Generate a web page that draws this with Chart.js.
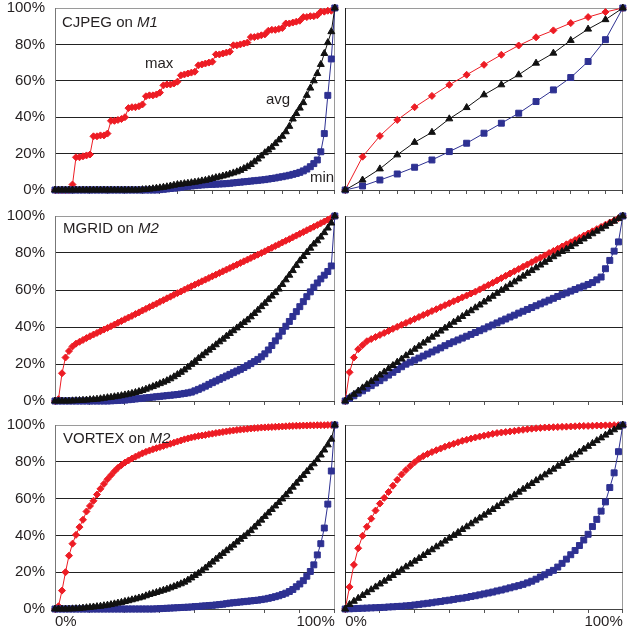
<!DOCTYPE html>
<html>
<head>
<meta charset="utf-8">
<script src="https://cdn.jsdelivr.net/npm/chart.js@4.4.1/dist/chart.umd.min.js"></script>
<style>
  body { margin: 0; background: #fff; }
  #wrap { position: relative; width: 628px; height: 634px; overflow: hidden; font-family: "Liberation Sans", Arial, sans-serif; }
  #wrap canvas { position: absolute; }
  .lbl { position: absolute; z-index: 2; font-size: 15px; line-height: 15px; color: #231f20; white-space: nowrap; }
</style>
</head>
<body>
<div id="wrap">
  <div class="lbl" style="left:62px;top:14px">CJPEG on <i>M1</i></div>
  <div class="lbl" style="left:145px;top:55px">max</div>
  <div class="lbl" style="left:266px;top:91px">avg</div>
  <div class="lbl" style="left:310px;top:169px">min</div>
  <div class="lbl" style="left:63px;top:220px">MGRID on <i>M2</i></div>
  <div class="lbl" style="left:63px;top:430px">VORTEX on <i>M2</i></div>
</div>
<script>
// ---- data (percent), points evenly spaced along x from 0% to 100% ----
// CJPEG on M1
const cjpegMaxAll = [0,0,0,0,0,3,
  18,18,18.5,19,19.5, 29.5,29.5,30,30,31, 38,38,38.5,39,40, 45,45.5,45.5,46,47,
  51.5,52,52,52.5,53.5, 57.5,58,58,58.5,59.5, 63,63.5,64,64.5,65, 68.5,69,69.5,70,70.5,
  74.5,74.5,75,75.5,76, 79.5,79.5,80,80.5,81, 84,84,84.5,85,85.5, 87.5,88,88,88.5,89,
  91.5,91.5,92,92.5,93, 95,95,95.5,95.5,96, 98,98,98.5,98.5, 100];
const cjpegAvgAll = [0,0,0,0,0,0,0,0,0,0,0,0,0,0,0,0,0,0,0,0,0,0,0,0,0,
  0.2,0.3,0.5,0.7,1,1.2,1.5,1.8,2.2,2.6, 3,3.2,3.5,3.7,4,4.3,4.6,5,5.3,5.8,
  6.3,6.8,7.2,7.7,8.2,8.8,9.4,10,10.8,11.8, 12.8,14,15.5,17,18.7,20.5,22,23.5,25.5,27.5,
  29.5,32,35,39,42,45,48,52,56,60, 64,69,75,81,87,100];
const cjpegMinAll = [0,0,0,0,0,0,0,0,0,0,0,0,0,0,0,0,0,0,0,0,0,0,0,0,0,0,0,0,0,0,
  0.2,0.4,0.6,0.8,1,1.2,1.5,1.8,2,2.2, 2.4,2.6,2.8,2.9,3,3.1,3.2,3.3,3.4,3.5,
  3.7,3.9,4.1,4.3,4.5,4.7,4.9,5.1,5.3,5.5, 5.7,6,6.3,6.6,7,7.3,7.7,8.1,8.6,9.1,
  9.7,10.5,11.5,12.8,14.5,16.5,21,31,52,72, 100];
const cjpegMax = [0,18.3,29.7,38.5,45.5,51.7,57.8,63.3,68.8,74.3,79.4,83.9,87.7,91.7,95,97.8,100];
const cjpegAvg = [0,5.5,11.6,19.3,26.2,31.7,39.1,45.3,52.3,57.8,63.3,69.7,75.2,82.2,88.4,93.6,100];
const cjpegMin = [0,2.2,5.5,8.8,12.5,16.5,21.1,25.7,31.2,36.7,42.2,48.6,55,61.8,70.6,82.6,100];

// MGRID on M2
const mgridMaxAll = [0,1,15,23.5,27,29.5,31,32,33,34,35,
  35.9,36.8,37.7,38.6,39.5,40.4,41.3,42.3,43.2,44.2, 45.1,46,47,47.9,48.9,49.8,50.8,51.7,52.6,53.6,
  54.5,55.5,56.4,57.4,58.3,59.2,60.2,61.1,62,62.9, 63.8,64.7,65.6,66.5,67.4,68.3,69.2,70.1,71,71.9,
  72.8,73.7,74.6,75.5,76.4,77.3,78.2,79.1,80,80.9, 81.9,82.8,83.8,84.7,85.7,86.6,87.5,88.5,89.4,90.4,
  91.3,92.3,93.2,94.2,95.1,96.1,97,98,99,100];
const mgridAvgAll = [0,0,0,0,0,0.1,0.2,0.3,0.4,0.5, 0.7,0.8,1,1.2,1.5,1.8,2,2.3,2.6,2.9,
  3.3,3.7,4.1,4.6,5.1,5.7,6.4,7.1,7.8,8.6, 9.4,10.2,11,12,13.1,14.3,15.5,16.8,18.3,19.8,
  21.4,23,24.5,26,27.5,28.9,30.4,32,33.4,35, 36.5,38,39.5,40.9,42.4,43.8,45.5,47.3,49.1,51,
  52.8,54.8,56.7,58.6,60.5,63,65.5,68,70.5,73.3, 75.8,78.1,80.3,82.6,84.8,86.6,88.6,91,93.5,96.2, 100];
const mgridMinAll = [0,0,0,0,0,0,0,0,0,0,0,0,0,0,0,0,
  0.1,0.2,0.3,0.4,0.5,0.7,0.9,1.1,1.3,1.5, 1.7,1.9,2.1,2.3,2.5,2.7,2.9,3.1,3.3,3.5,
  3.8,4.1,4.4,4.8,5.5,6.3,7.1,8,9,9.9, 10.8,11.7,12.6,13.5,14.4,15.3,16.2,17.1,18.1,19.1,
  20.2,21.3,22.5,23.9,25.5,27.6,30,32.5,35.1,37.7, 40.4,43,45.7,48.3,51,53.7,56.4,59,61.5,63.8,
  66,68,70,73,100];
const mgridMax = [0,15.5,23.5,28,30.2,32.3,33.5,34.6,35.7,36.8, 37.9,39,40.1,41.2,42.2,43.3,44.3,45.4,46.5,47.5,
  48.6,49.6,50.7,51.8,52.8,53.9,54.9,56,57,58.1, 59.1,60.3,61.5,62.7,63.9,65.2,66.4,67.7,68.9,70.1,
  71.3,72.6,73.8,75,76.3,77.5,78.7,80,81.1,82.3, 83.5,84.7,85.8,87,88.2,89.4,90.5,91.7,92.9,94.1,
  95.3,96.5,97.6,98.8,100];
const mgridAvg = [0,1.8,3.6,5.4,7.1,8.9,10.6,12.3,14,15.7, 17.5,19.2,21,22.7,24.5,26.2,28,29.6,31.3,32.9,
  34.5,36.1,37.8,39.4,41,42.6,44.1,45.7,47.3,48.8, 50.4,51.9,53.5,55.1,56.6,58.2,59.8,61.3,62.9,64.4,
  66,67.5,69,70.5,72,73.5,75,76.5,78,79.4, 80.8,82.1,83.5,84.9,86.2,87.6,89,90.4,91.8,93.1,
  94.5,95.9,97.2,98.6,100];
const mgridMin = [0,1.4,2.8,4.2,5.5,6.9,8.3,9.7,11,12.5, 14,15.5,17,18.5,19.9,21,22.1,23.2,24.3,25.4,
  26.5,27.6,28.7,29.9,31,32,33,34,35,36, 37,38,39,40.1,41.1,42.2,43.3,44.3,45.4,46.4,
  47.5,48.5,49.5,50.5,51.5,52.5,53.5,54.5,55.5,56.5, 57.5,58.4,59.4,60.3,61.2,62.1,63,64,65.5,67,
  71.5,76,81,86,100];

// VORTEX on M2
const vortexMaxAll = [0,1.5,10,20,29,35.5,40.3,44.5,48.5,53, 56,58.8,62.2,65.3,68,70.5,72.7,74.8,76.7,78.2,
  79.6,80.7,81.8,82.8,83.7,84.6,85.4,86.1,86.8,87.4, 88,88.6,89.2,89.8,90.4,91,91.6,92.2,92.7,93.2,
  93.6,94,94.3,94.6,95,95.3,95.6,95.9,96.2,96.5, 96.8,97,97.3,97.5,97.7,97.9,98.1,98.3,98.4,98.6,
  98.7,98.8,98.9,99,99.1,99.2,99.3,99.4,99.5,99.6, 99.6,99.7,99.7,99.8,99.8,99.9,99.9,99.9,100,100, 100];
const vortexAvgAll = [0,0,0,0,0,0.1,0.2,0.3,0.5,0.7, 0.9,1.1,1.3,1.5,1.8,2.1,2.4,2.8,3.2,3.6,
  4.1,4.5,5,5.5,6,6.5,7.2,7.9,8.4,9, 9.6,10.2,10.8,11.5,12.2,13,13.7,14.6,15.7,16.9,
  18.2,19.4,20.8,22.3,23.9,25.5,27.1,28.7,30.2,31.7, 33.2,34.7,36.4,37.9,39.4,40.9,42.6,44.5,46.4,48.3,
  50.3,52.2,54.1,56,57.9,59.8,62,64,66.2,68.4, 70.5,72.6,74.7,76.8,78.9,81.2,83.7,86.4,89.2,92.3, 100];
const vortexMinAll = [0,0,0,0,0,0,0,0,0,0,0,0,0,0,0,0,0,0,0,0,0,0,0,0,0,0,0,0,0,
  0.1,0.2,0.3,0.4,0.5,0.6,0.7,0.8,0.9,1, 1.1,1.3,1.4,1.6,1.7,1.9,2,2.2,2.4,2.6,
  2.9,3.2,3.4,3.6,3.8,4,4.2,4.4,4.6,4.8, 5.1,5.4,5.8,6.2,6.7,7.2,7.9,8.6,9.5,10.6,
  12.1,13.6,15.4,17.8,20.4,24,29.4,35.5,44,57, 75,100];
const vortexMax = [0,12,24,33,39.8,44.7,49.1,53.5,57.3,60.4, 63.6,67,70.2,73.1,75.5,77.7,79.7,81.6,83.1,84.3,
  85.3,86.3,87.2,88.2,89,89.8,90.6,91.4,92,92.6, 93.2,93.7,94.2,94.7,95.2,95.6,95.9,96.2,96.5,96.8,
  97.1,97.4,97.7,98,98.2,98.4,98.6,98.7,98.8,98.9, 99,99.1,99.2,99.3,99.4,99.5,99.5,99.6,99.7,99.7,
  99.8,99.8,99.9,99.9,100];
const vortexAvg = [0,2.5,4.2,5.8,7.4,8.9,10.5,12,13.6,15.1, 16.7,18.2,19.8,21.3,22.9,24.4,26,27.5,29.1,30.7,
  32.2,33.8,35.3,36.9,38.5,40,41.6,43.2,44.7,46.3, 47.9,49.4,51,52.6,54.1,55.7,57.3,58.8,60.4,62,
  63.5,65.1,66.7,68.2,69.8,71.3,72.9,74.5,76,77.6, 79.1,80.7,82.2,83.8,85.3,86.9,88.4,90,91.5,93,
  94.5,96,97.4,98.8,100];
const vortexMin = [0,0.1,0.2,0.3,0.4,0.5,0.6,0.7,0.8,0.9, 1.1,1.2,1.4,1.5,1.7,1.9,2.2,2.5,2.8,3.1,
  3.4,3.8,4.1,4.5,4.8,5.2,5.6,5.9,6.3,6.8, 7.2,7.7,8.2,8.7,9.2,9.8,10.3,10.9,11.5,12.1,
  12.7,13.4,14.2,15.1,16.2,17.4,18.6,19.9,21,22.8, 24.8,27.1,29.5,31.8,34.5,37.5,40.6,44.8,48.7,53.2,
  58.2,66,74,85.5,100];

// ---- layout ----
const red = '#ed1c24';
const blue = '#2e3192';
const black = '#111111';
const textColor = '#231f20';
const font = { family: "'Liberation Sans', Arial, sans-serif", size: 15 };

const rows = [
  { top: 0,   h: 200, padTop: 8,  axisH: 10, labels: false },
  { top: 200, h: 210, padTop: 16, axisH: 9,  labels: false },
  { top: 410, h: 224, padTop: 15, axisH: 25, labels: true },
];

const panels = [
  { row: 0, left: true,  max: cjpegMaxAll,  avg: cjpegAvgAll,  min: cjpegMinAll,  step: 6.25 },
  { row: 0, left: false, max: cjpegMax,     avg: cjpegAvg,     min: cjpegMin,     step: 6.25 },
  { row: 1, left: true,  max: mgridMaxAll,  avg: mgridAvgAll,  min: mgridMinAll,  step: 12.5 },
  { row: 1, left: false, max: mgridMax,     avg: mgridAvg,     min: mgridMin,     step: 12.5 },
  { row: 2, left: true,  max: vortexMaxAll, avg: vortexAvgAll, min: vortexMinAll, step: 12.5 },
  { row: 2, left: false, max: vortexMax,    avg: vortexAvg,    min: vortexMin,    step: 12.5 },
];

const wrap = document.getElementById('wrap');

function toPoints(ys) {
  return ys.map((v, i) => ({ x: i * 100 / (ys.length - 1), y: v }));
}

function series(ys, color, style, radius) {
  return {
    data: toPoints(ys),
    borderColor: color,
    backgroundColor: color,
    borderWidth: 1,
    pointStyle: style,
    pointRadius: radius,
    pointBackgroundColor: color,
    pointBorderColor: color,
    pointBorderWidth: 1,
    tension: 0,
    clip: false,
  };
}

// keep the plot boxes exactly where the original has them
function noPad(s) {
  s.paddingTop = 0;
  s.paddingBottom = 0;
  s.paddingLeft = 0;
  s.paddingRight = 0;
}

panels.forEach(p => {
  const row = rows[p.row];
  const canvas = document.createElement('canvas');
  canvas.width = p.left ? 340 : 288;
  canvas.height = row.h;
  canvas.style.left = (p.left ? 0 : 340) + 'px';
  canvas.style.top = row.top + 'px';
  wrap.appendChild(canvas);

  new Chart(canvas, {
    type: 'line',
    data: {
      // first dataset is painted last, so avg sits on top like the original
      datasets: [
        series(p.avg, black, 'triangle', 4),
        series(p.min, blue, 'rect', 4.2),
        series(p.max, red, 'rectRot', 3.5),
      ],
    },
    options: {
      responsive: false,
      animation: false,
      events: [],
      layout: { padding: { top: row.padTop, right: p.left ? 2 : 1, left: 0, bottom: 0 } },
      plugins: { legend: { display: false }, tooltip: { enabled: false } },
      scales: {
        x: {
          type: 'linear',
          min: 0,
          max: 100,
          border: { color: '#444' },
          grid: {
            color: c => (c.tick && c.tick.value === 100 ? '#9a9a9a' : 'rgba(0,0,0,0)'),
            tickColor: '#555',
            tickLength: 4,
          },
          ticks: {
            stepSize: p.step,
            autoSkip: false,
            maxRotation: 0,
            align: 'inner',
            padding: 0,
            display: row.labels,
            font: font,
            color: textColor,
            callback: v => (v === 0 ? '0%' : v === 100 ? '100%' : ''),
          },
          afterFit: s => { s.height = row.axisH; noPad(s); },
        },
        y: {
          min: 0,
          max: 100,
          border: { color: p.left ? '#777' : '#222' },
          grid: {
            color: c => (c.tick && c.tick.value === 100 ? '#9a9a9a' : '#222'),
            drawTicks: false,
          },
          ticks: {
            stepSize: 20,
            display: p.left,
            padding: 10,
            font: font,
            color: textColor,
            callback: v => v + '%',
          },
          afterFit: s => { s.width = p.left ? 55 : 4; noPad(s); },
        },
      },
    },
  });
});
</script>
</body>
</html>
